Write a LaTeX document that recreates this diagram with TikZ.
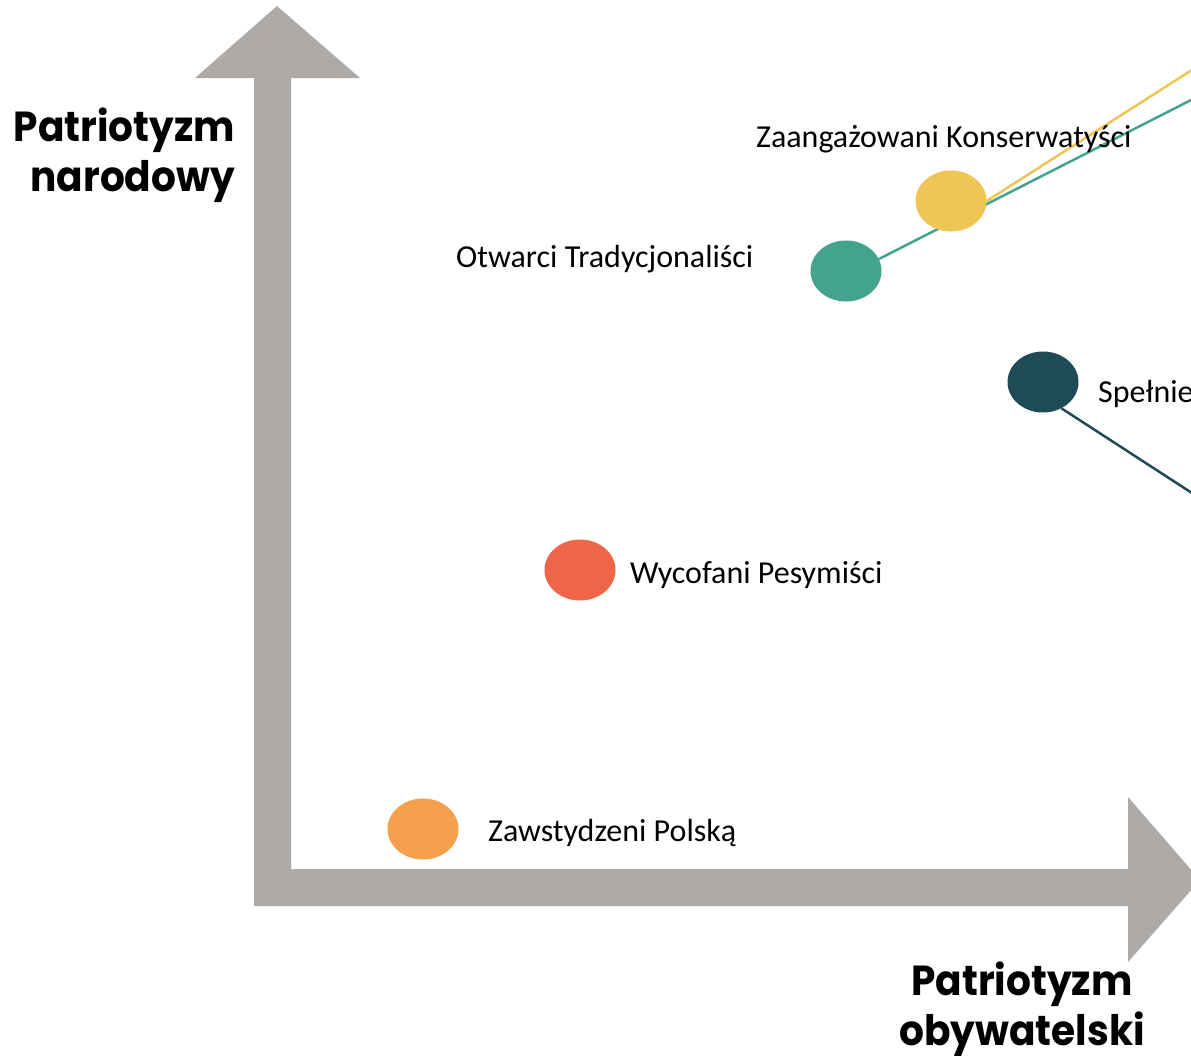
\documentclass[tikz,border=0pt]{standalone}
\usepackage{fontspec}
\setmainfont{Carlito}
\newfontfamily\axisfont{Poppins}[FakeStretch=0.93]
\usetikzlibrary{shapes.geometric}
\definecolor{axisgrey}{HTML}{AEAAA8}
\definecolor{cyellow}{HTML}{EFC555}
\definecolor{cteal}{HTML}{44A38E}
\definecolor{cdark}{HTML}{1F4A57}
\definecolor{cred}{HTML}{EE6647}
\definecolor{corange}{HTML}{F4A04C}
\tikzset{
  dot/.style={ellipse, minimum width=71pt, minimum height=61pt, inner sep=0pt, fill=#1},
  lab/.style={anchor=base west, inner sep=0pt, font=\fontsize{32}{38}\selectfont},
  axislab/.style={inner sep=0pt, font=\axisfont\bfseries\fontsize{42}{50}\selectfont},
  conn/.style={line width=2.5pt, draw=#1}
}
\begin{document}
\begin{tikzpicture}[x=1pt,y=-1pt]
\useasboundingbox (0,0) rectangle (1191,1055);
\clip (0,0) rectangle (1191,1055);
\fill[white] (0,0) rectangle (1191,1055);
% axes
\fill[axisgrey] (254,906) -- (254,78) -- (195,78) -- (277,6) -- (360,78) -- (291,78)
  -- (291,869) -- (1128,869) -- (1128,797) -- (1200,880) -- (1128,962) -- (1128,906) -- cycle;
% connector free ends
\coordinate (yend) at (1195,68);
\coordinate (tend) at (1195,98);
\coordinate (dend) at (1195,495);
% dots
\node[dot=cteal] (teal) at (846,271) {};
\draw[conn=cteal] (teal.20) -- (tend);
\node[dot=cyellow] (yellow) at (951,201) {};
\draw[conn=cyellow] (yellow.east) -- (yend);
\node[dot=cdark] (dark) at (1043,382) {};
\draw[conn=cdark] (dark.-55) -- (dend);
\node[dot=cred] (red) at (580,570) {};
\node[dot=corange] (orange) at (423,829) {};
% labels
\node[lab] (lzk) at (756,147) {Zaangażowani Konserwatyści};
\node[lab] (lot) at (456,267) {Otwarci Tradycjonaliści};
\node[lab] (lsp) at (1098,402) {Spełnie};
\node[lab] (lwp) at (630,583) {Wycofani Pesymiści};
\node[lab] (lzp) at (488,841) {Zawstydzeni Polską};
% axis labels
\node[axislab, align=right, anchor=north east] (ay) at (235,108) {Patriotyzm\\narodowy};
\node[axislab, align=center, anchor=north] (ax) at (1022,962) {Patriotyzm\\obywatelski};
\end{tikzpicture}
\end{document}
